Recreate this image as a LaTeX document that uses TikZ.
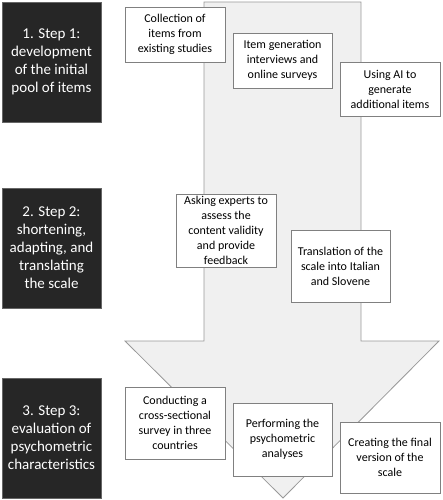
\documentclass[tikz,border=0pt]{standalone}
\usepackage{fontspec}
\setmainfont{Carlito}
\begin{document}
\begin{tikzpicture}[x=1pt,y=-1pt,
  stepbox/.style={fill=black!85, draw=black!60, line width=0.4pt, text=white, inner sep=0pt,
    minimum width=99pt, minimum height=120pt, align=center,
    font=\fontsize{15}{18}\selectfont},
  itembox/.style={fill=white, draw=black!50, line width=0.6pt, inner sep=0pt,
    align=center, font=\fontsize{12}{15}\selectfont}]
\useasboundingbox (0,0) rectangle (442,500);
% big arrow
\draw[fill=black!6, draw=black!40, line width=0.8pt]
  (204,2) -- (361,2) -- (361,341) -- (439,341) -- (283,498) -- (125,341) -- (204,341) -- cycle;
% step boxes
\node[stepbox] (s1) at (51.5,62) {1. Step 1:\\development\\of the initial\\pool of items};
\node[stepbox] (s2) at (51.5,248) {2. Step 2:\\shortening,\\adapting, and\\translating\\the scale};
\node[stepbox] (s3) at (51.5,438) {3. Step 3:\\evaluation of\\psychometric\\characteristics};
% item boxes
\node[itembox, minimum width=100pt, minimum height=55pt] (a1) at (175,34.5) {Collection of\\items from\\existing studies};
\node[itembox, minimum width=99pt, minimum height=55pt] (a2) at (282.5,60.5) {Item generation\\interviews and\\online surveys};
\node[itembox, minimum width=100pt, minimum height=54pt] (a3) at (390,89) {Using AI to\\generate\\additional items};
\node[itembox, minimum width=100pt, minimum height=73pt] (b1) at (226,230.5) {Asking experts to\\assess the\\content validity\\and provide\\feedback};
\node[itembox, minimum width=99pt, minimum height=72pt] (b2) at (340.5,266) {Translation of the\\scale into Italian\\and Slovene};
\node[itembox, minimum width=100pt, minimum height=72pt] (c1) at (175,423) {Conducting a\\cross-sectional\\survey in three\\countries};
\node[itembox, minimum width=99pt, minimum height=73pt] (c2) at (282.5,439.5) {Performing the\\psychometric\\analyses};
\node[itembox, minimum width=100pt, minimum height=71pt] (c3) at (390,457.5) {Creating the final\\version of the\\scale};
\end{tikzpicture}
\end{document}
